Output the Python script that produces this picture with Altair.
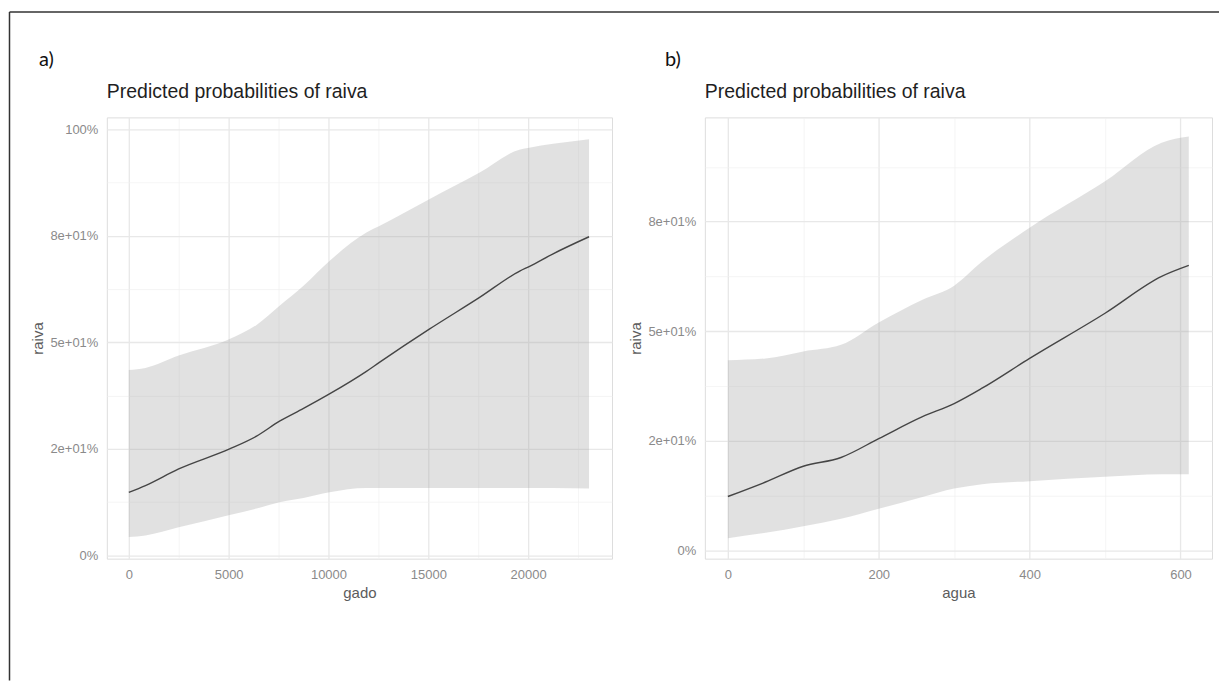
import altair as alt
import pandas as pd

# ---------------- data ----------------
gado = [0, 833, 2500, 5050, 6400, 7550, 8750, 10050, 11900, 12550,
        15050, 17550, 19600, 20050, 21250, 23050]
gado_pred = [14.8, 16.4, 20.3, 25.0, 28.0, 31.5, 34.5, 37.9, 43.2, 45.3,
             53.1, 60.5, 66.8, 67.8, 70.8, 74.8]
gado_low = [4.3, 4.7, 6.6, 9.5, 11.0, 12.5, 13.5, 14.8, 15.8, 15.8,
            15.8, 15.8, 15.8, 15.8, 15.8, 15.7]
gado_high = [43.5, 44.0, 46.9, 50.8, 54.1, 58.6, 63.3, 69.1, 75.8, 77.3,
             83.6, 89.8, 95.3, 95.7, 96.6, 97.7]

agua = [0, 50, 100, 150, 200, 258, 300, 337, 400, 500, 575, 611]
agua_pred = [12.3, 15.6, 19.2, 21.2, 25.5, 30.5, 33.5, 37.0, 43.8, 54.1, 62.5, 65.0]
agua_low = [2.8, 4.0, 5.5, 7.2, 9.5, 12.2, 14.1, 15.1, 15.8, 16.8, 17.4, 17.4]
agua_high = [43.4, 43.8, 45.4, 46.9, 52.0, 57.2, 60.4, 65.9, 73.6, 84.2, 93.0, 94.4]

y_tick_values = [0, 25, 50, 75, 100]
y_tick_labels = ["0%", "2e+01%", "5e+01%", "8e+01%", "100%"]
y_minor = [12.5, 37.5, 62.5, 87.5]

gado_ticks = [0, 5000, 10000, 15000, 20000]
gado_minor = [2500, 7500, 12500, 17500, 22500]
agua_ticks = [0, 200, 400, 600]
agua_minor = [100, 300, 500]

title_text = "Predicted probabilities of raiva"
panel_labels = ["a)", "b)"]

# ---------------- styling ----------------
FONT = "Liberation Sans"
W_A, W_B, H = 506, 508, 442
GAP = 93

label_expr = " : ".join(
    f"datum.value == {v} ? '{l}'" for v, l in zip(y_tick_values, y_tick_labels)
) + " : ''"

grid_w_y = {"condition": {"test": "datum.value % 25 != 0", "value": 0.7}, "value": 1.3}
grid_c_y = {"condition": {"test": "datum.value % 25 != 0", "value": "#f1f1f1"}, "value": "#e8e8e8"}


def axis_common(**kw):
    return dict(domain=False, ticks=False, labelFont=FONT, labelFontSize=13,
                labelColor="#8a8a8a", titleFont=FONT, titleFontSize=15,
                titleColor="#5c5c5c", titleFontWeight="normal", **kw)


def panel(xname, xs, pred, low, high, xdom, ydom, xmaj, xmin, label, label_x):
    df = pd.DataFrame({"x": xs, "pred": pred, "low": low, "high": high})
    step = xmaj[1] - xmaj[0]
    xaxis = alt.Axis(
        values=sorted(xmaj + xmin), format="d",
        labelExpr=f"datum.value % {step} == 0 ? datum.label : ''",
        labelPadding=10, titlePadding=4,
        gridWidth={"condition": {"test": f"datum.value % {step} != 0", "value": 0.7}, "value": 1.3},
        gridColor={"condition": {"test": f"datum.value % {step} != 0", "value": "#f1f1f1"}, "value": "#e8e8e8"},
        **axis_common(title=xname),
    )
    yvals = sorted([v for v in y_tick_values + y_minor if ydom[0] <= v <= ydom[1]])
    yaxis = alt.Axis(
        values=yvals, labelExpr=label_expr, labelPadding=9, titlePadding=4,
        gridWidth=grid_w_y, gridColor=grid_c_y,
        **axis_common(title="raiva"),
    )
    xenc = alt.X("x:Q", scale=alt.Scale(domain=xdom, nice=False, zero=False), axis=xaxis)
    base = alt.Chart(df)
    band = base.mark_area(color="#a3a3a3", opacity=0.33, interpolate="monotone").encode(
        x=xenc,
        y=alt.Y("low:Q", scale=alt.Scale(domain=ydom, nice=False, zero=False), axis=yaxis),
        y2="high:Q",
    )
    line = base.mark_line(color="#454545", strokeWidth=1.4, interpolate="monotone").encode(
        x=alt.X("x:Q"), y=alt.Y("pred:Q")
    )
    lab = alt.Chart(alt.Data(values=[{"t": label}])).mark_text(
        align="left", baseline="middle", font="Lato", fontSize=20, color="#111111"
    ).encode(text="t:N", x=alt.value(label_x), y=alt.value(-57))
    ttl = alt.Chart(alt.Data(values=[{"t": title_text}])).mark_text(
        align="left", baseline="alphabetic", font=FONT, fontSize=19.5, color="#1f1f1f"
    ).encode(text="t:N", x=alt.value(0), y=alt.value(-19.5))
    return [band, line, lab, ttl]


a_layers = panel("gado", gado, gado_pred, gado_low, gado_high,
                 [-1100, 24200], [-0.76, 102.82], gado_ticks, gado_minor,
                 panel_labels[0], -68)
# frame (top and left edges of the figure box)
frame_data = alt.Data(values=[{"f": 1}])
frame_left = alt.Chart(frame_data).mark_rule(color="#333333", strokeWidth=1.5).encode(
    x=alt.value(-97.5), y=alt.value(-105.5), y2=alt.value(564))
frame_top = alt.Chart(frame_data).mark_rule(color="#333333", strokeWidth=1.5).encode(
    x=alt.value(-97.5), x2=alt.value(1114), y=alt.value(-105.5))

chart_a = alt.layer(*a_layers, frame_left, frame_top).properties(width=W_A, height=H)

b_layers = panel("agua", agua, agua_pred, agua_low, agua_high,
                 [-30.5, 641.8], [-1.88, 98.78], agua_ticks, agua_minor,
                 panel_labels[1], -40)
chart_b = alt.layer(*b_layers).properties(width=W_B, height=H)

chart = alt.hconcat(chart_a, chart_b, spacing=GAP, bounds="flush").properties(
    padding={"left": 0, "top": 2, "right": 0, "bottom": 0}
).configure_view(stroke=None).configure(background="white")

chart.save("out.html", embed_options={"renderer": "svg", "actions": False})
